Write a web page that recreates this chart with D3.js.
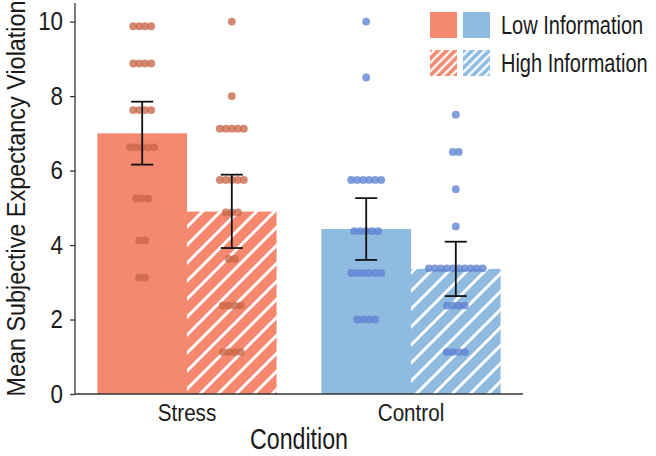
<!DOCTYPE html>
<html><head><meta charset="utf-8">
<script src="https://cdn.jsdelivr.net/npm/d3@7"></script>
<style>
html,body{margin:0;padding:0;background:#fff;}
text{font-family:"Liberation Sans",Arial,sans-serif;fill:#1a1a1a;}
</style></head>
<body><svg id="chart" width="656" height="456"></svg>
<script>
// ---- data ----
const conditions = ["Stress", "Control"];
const infoLevels = ["Low Information", "High Information"];
const means = [[7.0, 4.90], [4.43, 3.36]];           // [condition][info]
const errLow = [[6.16, 3.92], [3.60, 2.63]];
const errHigh = [[7.85, 5.89], [5.26, 4.09]];
// individual points: [value, count]
const stressLowPts = [[9.875,4],[8.875,4],[7.625,4],[6.625,5],[5.25,3],[4.125,2],[3.125,2]];
const stressHighPts = [[10,1],[8,1],[7.125,5],[5.75,5],[4.875,3],[3.625,2],[2.375,4],[1.125,4]];
const controlLowPts = [[10,1],[8.5,1],[5.75,6],[4.375,5],[3.25,6],[2.0,4]];
const controlHighPts = [[7.5,1],[6.5,2],[5.5,1],[4.5,1],[3.375,10],[2.375,4],[1.125,4]];
const points = [[stressLowPts, stressHighPts], [controlLowPts, controlHighPts]];
const yTicks = [0, 2, 4, 6, 8, 10];

const barColors = ["#F4896F", "#8FBBE0"];
const dotColors = ["rgba(201,103,72,0.78)", "rgba(95,130,210,0.78)"];

const svg = d3.select("#chart");
const m = {left: 75, right: 133, top: 3, bottom: 62};
const W = 656, H = 456;

const x0 = d3.scaleBand().domain(conditions).range([m.left, W - m.right]).paddingInner(0.2).paddingOuter(0.1);
const x1 = d3.scaleBand().domain(infoLevels).range([0, x0.bandwidth()]);
const y = d3.scaleLinear().domain([0, 10.5]).range([H - m.bottom, m.top]);

// emulate a condensed face by horizontal scaling (keeps anchor position)
function condense(sel, f) {
  sel.each(function() {
    const t = d3.select(this);
    const x = +(t.attr("x") || 0);
    const tr = t.attr("transform") || "";
    t.attr("x", x / f).attr("transform", `${tr} scale(${f},1)`);
  });
}

// hatch patterns
const defs = svg.append("defs");
function hatch(id, color, s, sw) {
  const p = defs.append("pattern").attr("id", id).attr("patternUnits", "userSpaceOnUse")
    .attr("width", s).attr("height", s);
  p.append("rect").attr("width", s).attr("height", s).attr("fill", color);
  p.append("path").attr("d", `M0,${s} L${s},0 M${-s/2},${s/2} L${s/2},${-s/2} M${s/2},${s*1.5} L${s*1.5},${s/2}`)
    .attr("stroke", "#fff").attr("stroke-width", sw);
}
hatch("hs", barColors[0], 18, 3);
hatch("hc", barColors[1], 18, 3);
hatch("lhs", barColors[0], 8.5, 2.2);
hatch("lhc", barColors[1], 8.5, 2.2);
const hatchIds = ["hs", "hc"];

// bars
conditions.forEach((c, ci) => {
  infoLevels.forEach((lv, li) => {
    const bx = x0(c) + x1(lv);
    svg.append("rect")
      .attr("x", bx).attr("width", x1.bandwidth())
      .attr("y", y(means[ci][li])).attr("height", y(0) - y(means[ci][li]))
      .attr("fill", li === 0 ? barColors[ci] : `url(#${hatchIds[ci]})`);
  });
});

// dots
const spacing = 6, r = 3.9;
conditions.forEach((c, ci) => {
  infoLevels.forEach((lv, li) => {
    const cx = x0(c) + x1(lv) + x1.bandwidth() / 2;
    points[ci][li].forEach(([v, n]) => {
      for (let k = 0; k < n; k++) {
        svg.append("circle")
          .attr("cx", cx + (k - (n - 1) / 2) * spacing)
          .attr("cy", y(v)).attr("r", r)
          .attr("fill", dotColors[ci]);
      }
    });
  });
});

// error bars
const cap = 11;
conditions.forEach((c, ci) => {
  infoLevels.forEach((lv, li) => {
    const cx = x0(c) + x1(lv) + x1.bandwidth() / 2;
    const g = svg.append("g").attr("stroke", "#111").attr("stroke-width", 1.8).attr("fill", "none");
    g.append("line").attr("x1", cx).attr("x2", cx).attr("y1", y(errLow[ci][li])).attr("y2", y(errHigh[ci][li]));
    g.append("line").attr("x1", cx - cap).attr("x2", cx + cap).attr("y1", y(errLow[ci][li])).attr("y2", y(errLow[ci][li]));
    g.append("line").attr("x1", cx - cap).attr("x2", cx + cap).attr("y1", y(errHigh[ci][li])).attr("y2", y(errHigh[ci][li]));
  });
});

// axes
const yAxis = svg.append("g").attr("transform", `translate(${m.left},0)`)
  .call(d3.axisLeft(y).tickValues(yTicks).tickSize(5).tickPadding(7).tickFormat(d3.format("d")));
yAxis.select(".domain").attr("stroke", "#333").attr("stroke-width", 1.3).attr("d", `M0,${y(10.5)}V${y(0)}`);
yAxis.selectAll(".tick line").attr("stroke", "#333").attr("stroke-width", 1.3);
yAxis.selectAll(".tick text").attr("font-size", 26).style("fill", "#1a1a1a")
  .style("font-family", '"Liberation Sans",Arial,sans-serif').call(condense, 0.86);

const xAxis = svg.append("g").attr("transform", `translate(0,${y(0)})`)
  .call(d3.axisBottom(x0).tickSize(0).tickPadding(10));
xAxis.select(".domain").attr("stroke", "#333").attr("stroke-width", 1.3).attr("d", `M${m.left},0H${W - m.right}`);
xAxis.selectAll(".tick text").attr("font-size", 24).style("fill", "#1a1a1a")
  .style("font-family", '"Liberation Sans",Arial,sans-serif').call(condense, 0.86);

// axis titles
svg.append("text").attr("x", (m.left + W - m.right) / 2).attr("y", 449)
  .attr("text-anchor", "middle").attr("font-size", 29).text("Condition").call(condense, 0.8);
svg.append("text").attr("transform", `translate(25,${(y(0) + y(10.5)) / 2}) rotate(-90)`)
  .attr("text-anchor", "middle").attr("font-size", 26).text("Mean Subjective Expectancy Violation").call(condense, 0.9);

// legend
const sw = 27, sh = 26;
const legendRows = [
  {label: infoLevels[0], fills: [barColors[0], barColors[1]], y: 12},
  {label: infoLevels[1], fills: ["url(#lhs)", "url(#lhc)"], y: 50}
];
legendRows.forEach(row => {
  row.fills.forEach((f, i) => {
    svg.append("rect").attr("x", 430 + i * 33).attr("y", row.y).attr("width", sw).attr("height", sh).attr("fill", f);
  });
  svg.append("text").attr("x", 501).attr("y", row.y + sh / 2 + 9).attr("font-size", 25).text(row.label).call(condense, 0.8);
});
</script></body></html>
